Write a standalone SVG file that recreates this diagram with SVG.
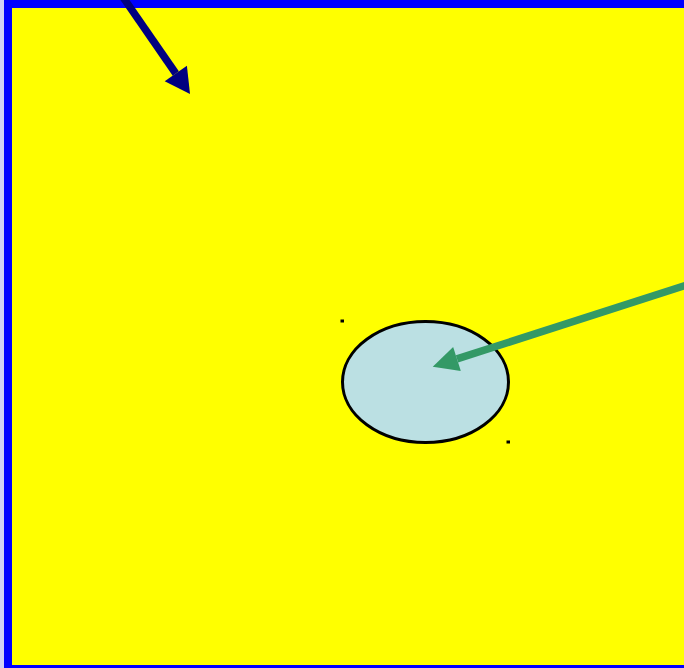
<svg xmlns="http://www.w3.org/2000/svg" width="684" height="668" viewBox="0 0 684 668">
<style>
.frame{fill:#ffff00;stroke:#0000ff;stroke-width:8}
.node{fill:#bbe0e3;stroke:#000;stroke-width:3}
.dot{fill:#000}
.c-blue{stroke:#000080;stroke-width:7.5;fill:none}
.c-green{stroke:#339966;stroke-width:7.5;fill:none}
</style>
<defs>
<marker id="hb" markerUnits="userSpaceOnUse" markerWidth="26" markerHeight="28" refX="0" refY="13.5" orient="auto" overflow="visible">
<path d="M0,0 L25,13.5 L0,27 z" fill="#000080"/>
</marker>
<marker id="hg" markerUnits="userSpaceOnUse" markerWidth="27" markerHeight="26" refX="0" refY="12.6" orient="auto" overflow="visible">
<path d="M0,0 L25.5,12.6 L0,25.2 z" fill="#339966"/>
</marker>
</defs>
<rect x="0" y="0" width="684" height="668" fill="#ffffff"/>
<rect x="0" y="0" width="4" height="668" fill="#d0d0f4"/>
<g id="frame">
<rect class="frame" x="8" y="4" width="700" height="665"/>
</g>
<g id="ellipse-node">
<ellipse class="node" cx="425.5" cy="382" rx="83" ry="60.5"/>
<rect class="dot" x="340.5" y="319.5" width="3.5" height="3"/>
<rect class="dot" x="506.5" y="440.5" width="3.5" height="3"/>
</g>
<g id="connectors">
<line class="c-blue" x1="121.5" y1="-5" x2="175.8" y2="73.5" marker-end="url(#hb)"/>
<line class="c-green" x1="690" y1="284" x2="457" y2="358.9" marker-end="url(#hg)"/>
</g>
</svg>
